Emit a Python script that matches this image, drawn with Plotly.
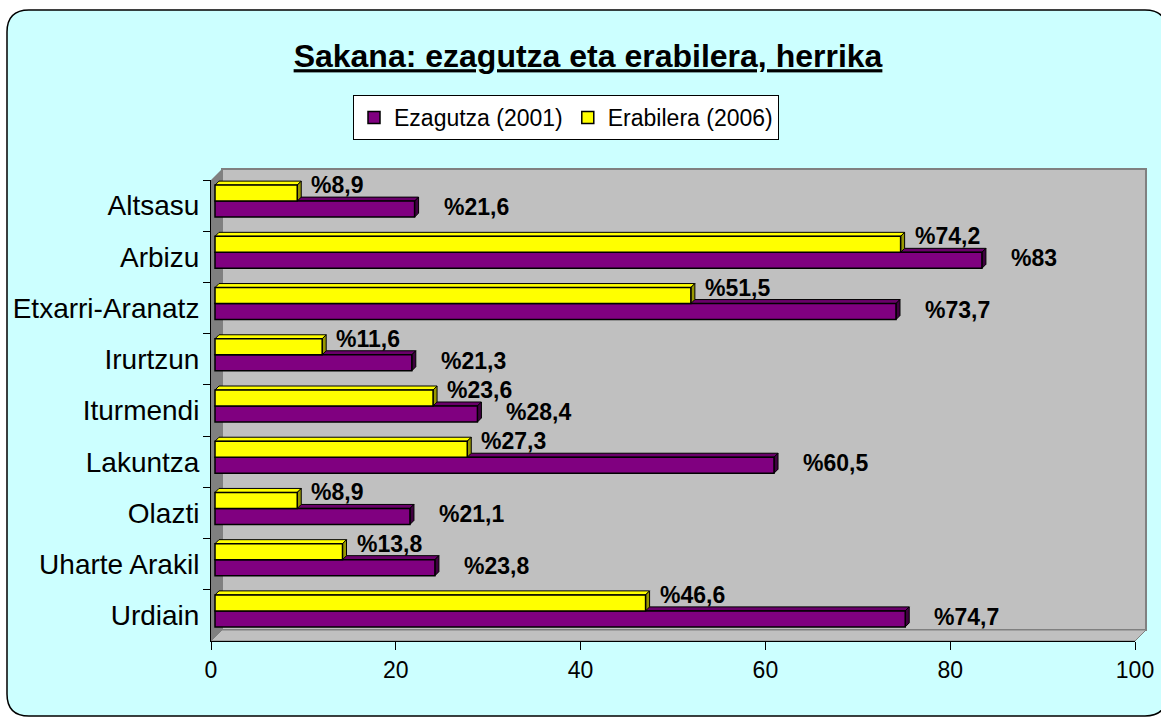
import plotly.graph_objects as go

# ---- data ----
categories = ["Altsasu", "Arbizu", "Etxarri-Aranatz", "Irurtzun", "Iturmendi",
              "Lakuntza", "Olazti", "Uharte Arakil", "Urdiain"]
ezagutza_2001 = [21.6, 83, 73.7, 21.3, 28.4, 60.5, 21.1, 23.8, 74.7]
erabilera_2006 = [8.9, 74.2, 51.5, 11.6, 23.6, 27.3, 8.9, 13.8, 46.6]
x_ticks = [0, 20, 40, 60, 80, 100]

# ---- geometry (pixels) ----
W, H = 1161, 717
L, R, T, B = 211, 1135, 180, 641
PW, PH = R - L, B - T
CAT = PH / len(categories)          # px per category
UNIT = PW / 100.0                    # px per x unit
BOX_D = 11                           # 3D box depth
SHIFT_X, SHIFT_Y = 4, 4.5            # bars sit at mid depth
BAR_D = 4                            # bar 3D depth
bar_w = 16 / CAT
sy = SHIFT_Y / CAT
dx = BAR_D / UNIT
dy = BAR_D / CAT

FONT = "Liberation Sans, Arial, sans-serif"
PURPLE, PURPLE_TOP, PURPLE_SIDE = "#800080", "#6a006a", "#400040"
YELLOW, YELLOW_TOP, YELLOW_SIDE = "#FFFF00", "#FFFF00", "#999900"


def px_x(p):
    return (p - L) / PW


def px_y(p):
    return (B - p) / PH


def P(x, y):
    return f"{px_x(x):.5f},{px_y(y):.5f}"


def poly(points):
    return "M " + " L ".join(P(x, y) for x, y in points) + " Z"


shapes = []
# rounded chart frame
fx0, fy0, fx1, fy1, r = 7, 10, 1167, 716, 22
frame = (f"M {P(fx0 + r, fy0)} L {P(fx1 - r, fy0)} Q {P(fx1, fy0)} {P(fx1, fy0 + r)} "
         f"L {P(fx1, fy1 - r)} Q {P(fx1, fy1)} {P(fx1 - r, fy1)} "
         f"L {P(fx0 + r, fy1)} Q {P(fx0, fy1)} {P(fx0, fy1 - r)} "
         f"L {P(fx0, fy0 + r)} Q {P(fx0, fy0)} {P(fx0 + r, fy0)} Z")
shapes.append(dict(type="path", path=frame, xref="paper", yref="paper", layer="below",
                   fillcolor="#CCFFFF", line=dict(color="black", width=1.5)))
# back wall
shapes.append(dict(type="path", xref="paper", yref="paper", layer="below",
                   path=poly([(L + BOX_D, T - BOX_D), (R + BOX_D, T - BOX_D),
                              (R + BOX_D, B - BOX_D), (L + BOX_D, B - BOX_D)]),
                   fillcolor="#C0C0C0", line=dict(color="#808080", width=2)))
# left wall
shapes.append(dict(type="path", xref="paper", yref="paper", layer="below",
                   path=poly([(L, T), (L + BOX_D, T - BOX_D), (L + BOX_D, B - BOX_D), (L, B)]),
                   fillcolor="#808080", line=dict(width=0)))
# floor
shapes.append(dict(type="path", xref="paper", yref="paper", layer="below",
                   path=poly([(L, B), (L + BOX_D, B - BOX_D), (R + BOX_D, B - BOX_D), (R, B)]),
                   fillcolor="#C0C0C0", line=dict(color="#808080", width=1)))


def dpath(pts):
    return "M " + " L ".join(f"{x:.4f},{y:.4f}" for x, y in pts) + " Z"


# 3D faces of bars (top and right side), from the data values
series_faces = [
    (ezagutza_2001, -sy, PURPLE_TOP, PURPLE_SIDE),
    (erabilera_2006, -sy - bar_w, YELLOW_TOP, YELLOW_SIDE),
]
for vals, off, ctop, cside in series_faces:
    for i, v in enumerate(vals):
        yt = i + off
        yb = yt + bar_w
        shapes.append(dict(type="path", xref="x2", yref="y", layer="below",
                           path=dpath([(0, yt), (dx, yt - dy), (v + dx, yt - dy), (v, yt)]),
                           fillcolor=ctop, line=dict(color="black", width=1)))
        shapes.append(dict(type="path", xref="x2", yref="y", layer="below",
                           path=dpath([(v, yt), (v + dx, yt - dy), (v + dx, yb - dy), (v, yb)]),
                           fillcolor=cside, line=dict(color="black", width=1)))

fig = go.Figure()
# keeps the main (front-plane) axes alive; draws nothing
fig.add_trace(go.Scatter(x=[None], y=[None], xaxis="x", yaxis="y", mode="markers",
                         showlegend=False, hoverinfo="skip"))
fig.add_trace(go.Bar(
    name="Ezagutza (2001)", y=categories, x=ezagutza_2001, orientation="h",
    xaxis="x2", yaxis="y", width=bar_w, offset=-sy,
    marker=dict(color=PURPLE, line=dict(color="black", width=1.5)),
))
fig.add_trace(go.Bar(
    name="Erabilera (2006)", y=categories, x=erabilera_2006, orientation="h",
    xaxis="x2", yaxis="y", width=bar_w, offset=-sy - bar_w,
    marker=dict(color=YELLOW, line=dict(color="black", width=1.5)),
))


def fmt(v):
    return "%" + f"{v:g}".replace(".", ",")


annotations = []
for i, v in enumerate(erabilera_2006):
    annotations.append(dict(x=v, y=i - sy - bar_w / 2, xref="x2", yref="y",
                            text=fmt(v), showarrow=False, xanchor="left", yanchor="middle",
                            xshift=12, yshift=8,
                            font=dict(family=FONT, size=23, color="black", weight="bold")))
for i, v in enumerate(ezagutza_2001):
    annotations.append(dict(x=v, y=i - sy + bar_w / 2, xref="x2", yref="y",
                            text=fmt(v), showarrow=False, xanchor="left", yanchor="middle",
                            xshift=27, yshift=2,
                            font=dict(family=FONT, size=23, color="black", weight="bold")))

fig.update_layout(
    width=W, height=H, autosize=False,
    margin=dict(l=L, r=W - R, t=T, b=H - B, pad=0, autoexpand=False),
    paper_bgcolor="white", plot_bgcolor="rgba(0,0,0,0)",
    font=dict(family=FONT, color="black"),
    barmode="overlay",
    title=dict(text="Sakana: ezagutza eta erabilera, herrika",
               x=px_x(588), xref="paper", xanchor="center",
               y=1 - 56 / H, yref="container", yanchor="middle",
               font=dict(family=FONT, size=32, color="black", weight="bold",
                         lineposition="under")),
    legend=dict(orientation="h", x=px_x(353), y=px_y(95), xanchor="left", yanchor="top",
                bgcolor="white", bordercolor="black", borderwidth=1,
                font=dict(family=FONT, size=23, color="black"), traceorder="normal"),
    xaxis=dict(range=[0, 100], tickvals=x_ticks, showline=True, linecolor="black",
               linewidth=1, ticks="outside", ticklen=8, tickcolor="black",
               showgrid=False, zeroline=False, automargin=False,
               tickfont=dict(family=FONT, size=23, color="black")),
    xaxis2=dict(range=[-SHIFT_X / UNIT, 100 - SHIFT_X / UNIT], overlaying="x", anchor="y",
                visible=False, showgrid=False, zeroline=False),
    yaxis=dict(type="category", categoryorder="array", categoryarray=categories,
               range=[len(categories) - 0.5, -0.5], tickson="boundaries",
               showline=True, linecolor="black", linewidth=1, ticks="outside",
               ticklen=7, tickcolor="black", showgrid=False, zeroline=False,
               automargin=False, ticklabelstandoff=5,
               tickfont=dict(family=FONT, size=28, color="black")),
    shapes=shapes,
    annotations=annotations,
    showlegend=True,
)

fig.write_html("out.html", config={"displayModeBar": False},
               post_script="document.body.style.margin='0';")
